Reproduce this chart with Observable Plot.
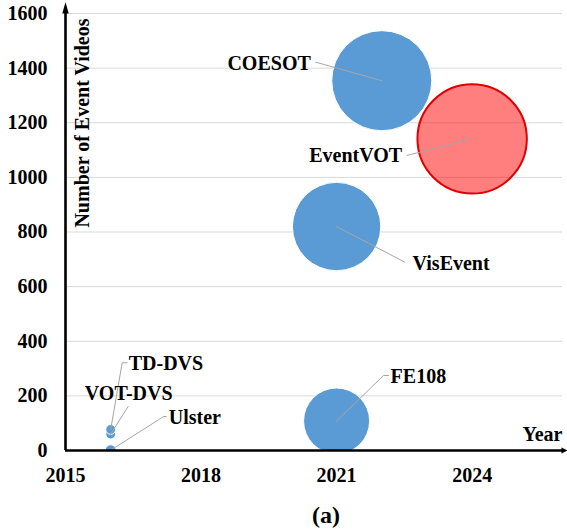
<!DOCTYPE html>
<html><head><meta charset="utf-8">
<script src="https://cdn.jsdelivr.net/npm/d3@7"></script>
<script src="https://cdn.jsdelivr.net/npm/@observablehq/plot@0.6"></script>
<style>
body{margin:0;background:#fff}
#chart svg, #chart svg text { font-family: "Liberation Serif", "Times New Roman", serif !important; font-weight: bold; }
</style>
</head><body><div id="chart"></div>
<script>
// ---- data ----
const names      = ["Ulster", "VOT-DVS", "TD-DVS", "FE108", "VisEvent", "COESOT", "EventVOT"];
const years      = [2016, 2016, 2016, 2021, 2021, 2022, 2024];
const videos     = [1, 60, 77, 108, 820, 1354, 1141];
const bubbleSize = [30, 24, 24, 1090, 1950, 2500, 2990];
const isOurs     = [false, false, false, false, false, false, true];
const xTicks = [2015, 2018, 2021, 2024];
const yTicks = [0, 200, 400, 600, 800, 1000, 1200, 1400, 1600];
const xDomain = [2015, 2026];
const yDomain = [0, 1600];

// ---- layout (pixel offsets of labels / leader lines from the bubble centre) ----
const labelLayout = {
  "COESOT":   {tx: -71,  ty: -17.5, anchor: "end",    path: [[-66, -18.5]]},
  "EventVOT": {tx: -70,  ty: 17,    anchor: "end",    path: [[-65, 16.5]]},
  "VisEvent": {tx: 76,   ty: 37,    anchor: "start",  path: [[68, 35.5]]},
  "FE108":    {tx: 54,   ty: -44.5, anchor: "start",  path: [[47, -45.5], [52, -45.5]]},
  "TD-DVS":   {tx: 18,   ty: -66,   anchor: "start",  path: [[11.5, -66.7], [16.5, -66.7]]},
  "VOT-DVS":  {tx: 18,   ty: -40.6, anchor: "middle", path: [[17.5, -27.6]]},
  "Ulster":   {tx: 58,   ty: -32.7, anchor: "start",  path: [[53, -33.7], [55.5, -33.7]]}
};

const W = 567, H = 531, mL = 65, mR = 5, mT = 13, mB = 81;
const X = d3.scaleLinear(xDomain, [mL, W - mR]);
const Y = d3.scaleLinear(yDomain, [H - mB, mT]);

const data = names.map((n, i) => ({name: n, year: years[i], videos: videos[i], size: bubbleSize[i], ours: isOurs[i]}));

const leaderPts = [];
const labelPts = [];
for (const d of data) {
  const L = labelLayout[d.name];
  const cx = X(d.year), cy = Y(d.videos);
  leaderPts.push({name: d.name, x: d.year, y: d.videos});
  for (const [dx, dy] of L.path) leaderPts.push({name: d.name, x: X.invert(cx + dx), y: Y.invert(cy + dy)});
  labelPts.push({name: d.name, anchor: L.anchor, x: X.invert(cx + L.tx), y: Y.invert(cy + L.ty)});
}

const arrowUp = {draw(c) { c.moveTo(0, -11.5); c.lineTo(3.2, 0); c.lineTo(-3.2, 0); c.closePath(); }};
const arrowRight = {draw(c) { c.moveTo(5, 0); c.lineTo(-1, -3); c.lineTo(-1, 3); c.closePath(); }};

const font = "Liberation Serif";

const chart = Plot.plot({
  width: W, height: H,
  marginLeft: mL, marginRight: mR, marginTop: mT, marginBottom: mB,
  style: {fontFamily: font, fontSize: "20px", fontWeight: "bold", color: "black", background: "white", overflow: "visible"},
  x: {domain: xDomain, ticks: xTicks, tickFormat: "d", label: null},
  y: {domain: yDomain, ticks: yTicks, tickFormat: "d", label: null},
  r: {type: "sqrt", domain: [0, d3.max(bubbleSize)], range: [0, 54.7]},
  marks: [
    Plot.gridY(yTicks.filter(v => v > 0), {stroke: "#d9d9d9", strokeOpacity: 1, strokeWidth: 1}),
    Plot.axisX({ticks: xTicks, tickFormat: "d", tickSize: 0, tickPadding: 17, fontSize: 20, fill: "black", fontFamily: font, fontWeight: "bold"}),
    Plot.axisY({ticks: yTicks, tickFormat: "d", tickSize: 0, tickPadding: 18, fontSize: 20, fill: "black", fontFamily: font, fontWeight: "bold"}),
    Plot.dot(data.filter(d => !d.ours), {x: "year", y: "videos", r: "size", fill: "#5B9BD5", stroke: "white", strokeWidth: 1, fillOpacity: 1, clip: true}),
    Plot.dot(data.filter(d => d.ours), {x: "year", y: "videos", r: "size", fill: "#FF0000", fillOpacity: 0.5, stroke: "#E00000", strokeWidth: 2, clip: true}),
    Plot.line(leaderPts, {x: "x", y: "y", z: "name", stroke: "#a6a6a6", strokeWidth: 1, curve: "linear"}),
    ...["start", "middle", "end"].map(a => Plot.text(labelPts.filter(d => d.anchor === a), {x: "x", y: "y", text: "name", textAnchor: a, lineAnchor: "middle", fill: "black", fontSize: 20, fontFamily: font, fontWeight: "bold"})),
    Plot.ruleY([yDomain[0]], {stroke: "black", strokeWidth: 2.6}),
    Plot.ruleX([xDomain[0]], {stroke: "black", strokeWidth: 2.6, insetTop: -1}),
    Plot.dot([0], {frameAnchor: "top-left", symbol: arrowUp, fill: "black", stroke: "none", r: 4}),
    Plot.dot([0], {frameAnchor: "bottom-right", symbol: arrowRight, fill: "black", stroke: "none", r: 4}),
    Plot.text(["Number of Event Videos"], {frameAnchor: "top-left", rotate: -90, textAnchor: "end", lineAnchor: "middle", dx: 17, dy: 5, fill: "black", fontSize: 20, fontFamily: font, fontWeight: "bold"}),
    Plot.text(["Year"], {frameAnchor: "bottom-right", textAnchor: "end", lineAnchor: "middle", dy: -16, fill: "black", fontSize: 20, fontFamily: font, fontWeight: "bold"}),
    Plot.text(["(a)"], {frameAnchor: "bottom", dx: 12, dy: 65, lineAnchor: "middle", fill: "black", fontSize: 24, fontFamily: font, fontWeight: "bold"})
  ]
});
document.getElementById("chart").appendChild(chart);
</script>
</body></html>
